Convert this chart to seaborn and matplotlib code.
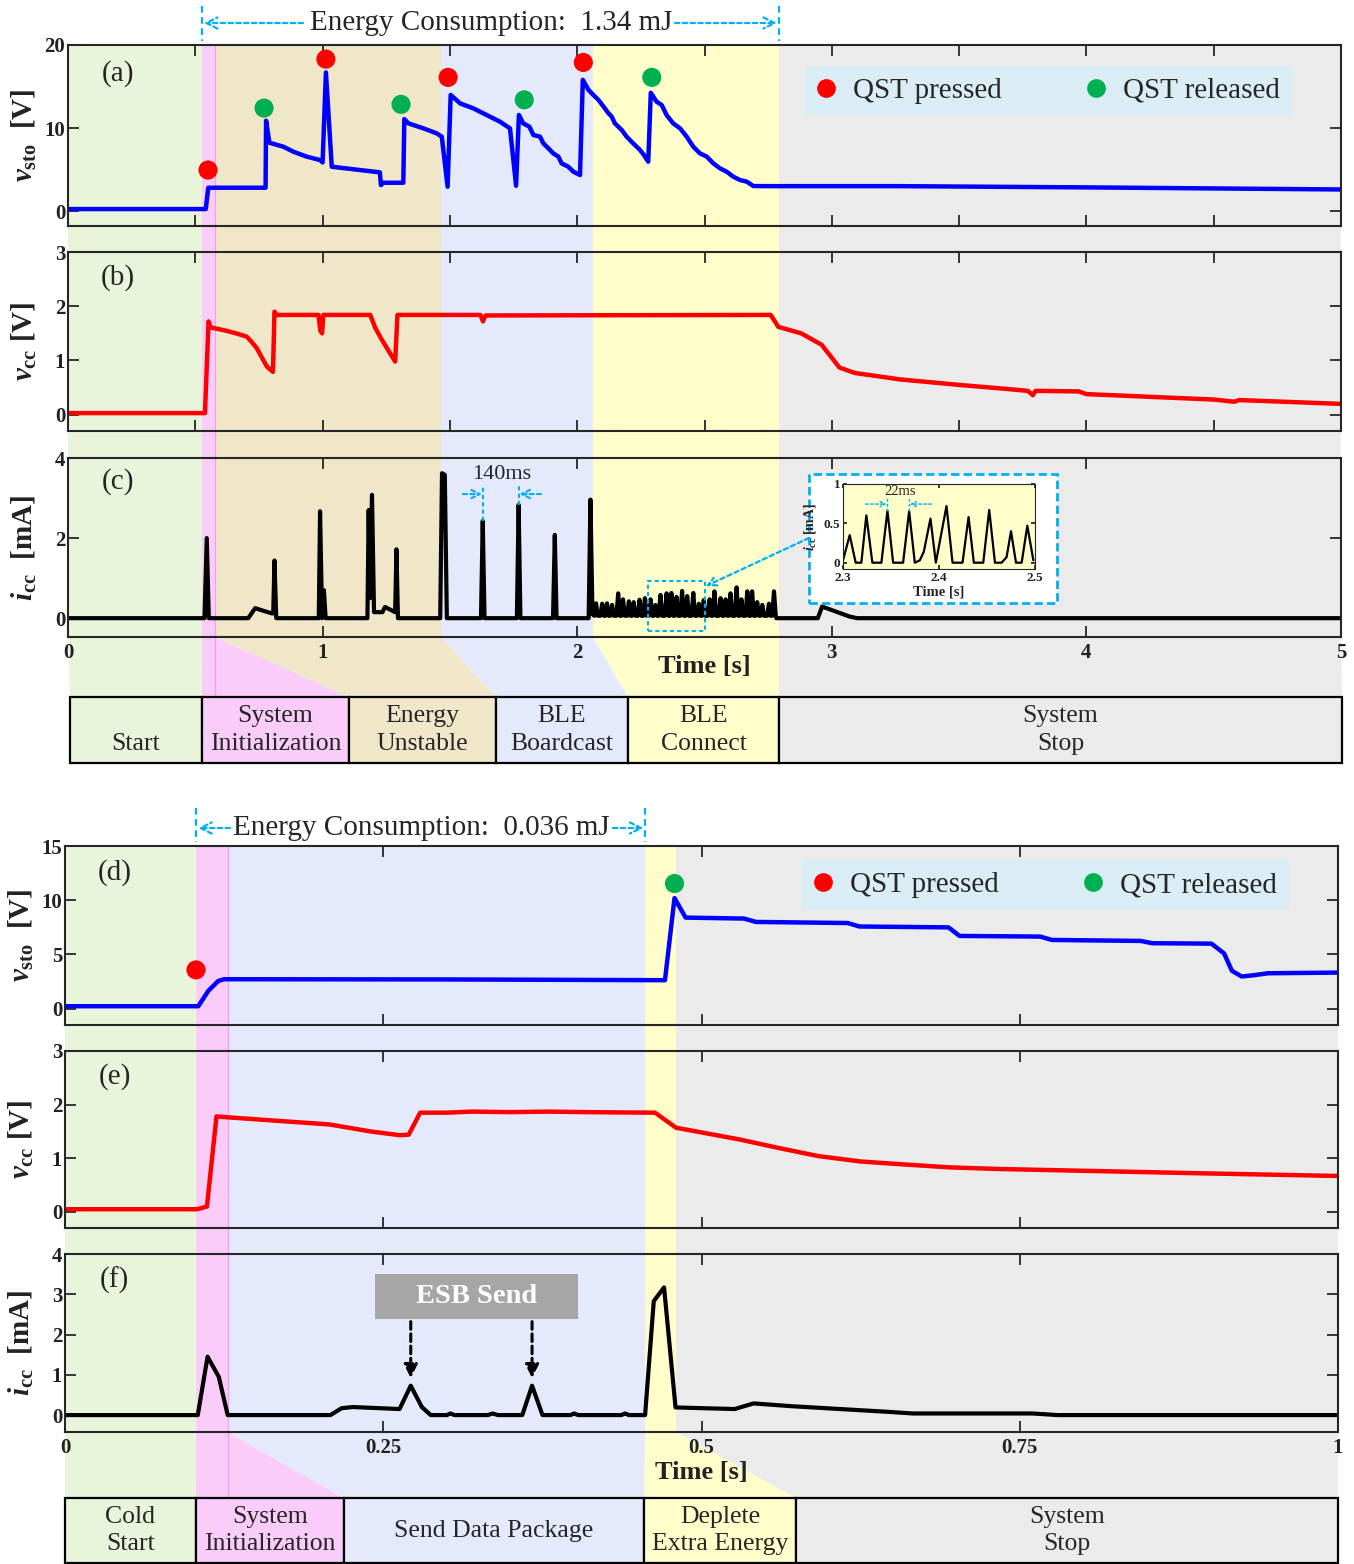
import numpy as np
import matplotlib
matplotlib.use("Agg")
import matplotlib.pyplot as plt
import matplotlib.transforms as mtransforms
from matplotlib.patches import Rectangle, Polygon
from matplotlib.lines import Line2D
import seaborn as sns

sns.set_style("ticks")
plt.rcParams['font.family'] = ['Liberation Serif', 'DejaVu Serif']
plt.rcParams['mathtext.fontset'] = 'custom'
plt.rcParams['mathtext.rm'] = 'Liberation Serif'
plt.rcParams['mathtext.it'] = 'Liberation Serif:italic:bold'
plt.rcParams['mathtext.bf'] = 'Liberation Serif:bold'

W, H = 1354, 1564

# phase colours
GREEN, PINK, TAN, BLUE, YELLOW, GRAY = '#E9F5DB', '#FACCFA', '#F0E6C8', '#E4EAFC', '#FFFDCA', '#EBEBEB'
CYAN = '#00B0F0'

# ---------------- top experiment (5 s) ----------------
top_phase_edges = [0, 0.526, 0.577, 1.465, 2.062, 2.793, 5.0]
top_phase_names = ['\nStart', 'System\nInitialization', 'Energy\nUnstable', 'BLE\nBoardcast', 'BLE\nConnect', 'System\nStop']
top_phase_colors = [GREEN, PINK, TAN, BLUE, YELLOW, GRAY]
top_box_edges_px = [70, 202, 349, 496, 628, 779, 1342]

vsto_top = [(0, 0.24), (0.541, 0.24), (0.551, 2.81), (0.776, 2.81), (0.778, 10.88), (0.791, 8.23),
            (0.846, 7.75), (0.885, 7.15), (0.938, 6.55), (0.990, 6.14), (1.000, 5.86), (1.013, 16.7),
            (1.036, 5.34), (1.225, 4.66), (1.229, 3.13), (1.239, 3.41), (1.317, 3.41), (1.321, 11.08),
            (1.337, 10.56), (1.396, 9.96), (1.448, 9.36), (1.468, 8.96), (1.491, 2.93), (1.503, 13.98),
            (1.540, 12.97), (1.592, 12.37), (1.644, 11.57), (1.697, 10.76), (1.736, 9.96), (1.760, 3.05),
            (1.771, 11.57), (1.788, 10.56), (1.812, 10.16), (1.828, 9.16), (1.854, 8.96), (1.867, 8.15),
            (1.887, 7.55), (1.906, 6.95), (1.926, 6.55), (1.939, 5.74), (1.965, 5.34), (1.985, 4.74),
            (2.011, 4.34), (2.022, 15.8), (2.044, 14.6), (2.063, 14.0), (2.083, 13.4), (2.103, 12.6),
            (2.122, 11.8), (2.135, 11.4), (2.148, 10.56), (2.175, 9.76), (2.194, 8.96), (2.220, 8.15),
            (2.247, 7.35), (2.262, 6.75), (2.279, 5.94), (2.289, 14.25), (2.312, 13.17), (2.332, 12.77),
            (2.351, 11.57), (2.377, 10.56), (2.404, 9.96), (2.430, 8.96), (2.456, 7.75), (2.482, 6.95),
            (2.509, 6.55), (2.535, 5.74), (2.561, 5.14), (2.587, 4.74), (2.613, 4.14), (2.639, 3.74),
            (2.666, 3.54), (2.692, 3.01), (2.770, 3.0), (3.27, 3.0), (4.0, 2.85), (5.0, 2.6)]

vcc_top = [(0, 0.03), (0.538, 0.03), (0.552, 1.72), (0.560, 1.61), (0.59, 1.58), (0.62, 1.55),
           (0.66, 1.50), (0.702, 1.44), (0.72, 1.35), (0.741, 1.23), (0.781, 0.89), (0.805, 0.79),
           (0.811, 1.90), (0.82, 1.84), (0.984, 1.84), (0.991, 1.55), (0.998, 1.5), (1.003, 1.84),
           (1.187, 1.84), (1.207, 1.6), (1.233, 1.38), (1.285, 0.98), (1.294, 1.84), (1.62, 1.84),
           (1.63, 1.72), (1.64, 1.83), (2.76, 1.84), (2.79, 1.62), (2.88, 1.5), (2.96, 1.29),
           (3.03, 0.87), (3.09, 0.77), (3.27, 0.65), (3.50, 0.55), (3.70, 0.47), (3.77, 0.44),
           (3.79, 0.36), (3.80, 0.44), (3.97, 0.43), (4.0, 0.38), (4.5, 0.28), (4.58, 0.24),
           (4.6, 0.27), (5.0, 0.2)]

icc_top_a = [(0, 0), (0.536, 0), (0.545, 2.0), (0.553, 0), (0.708, 0), (0.735, 0.25), (0.80, 0.12),
             (0.806, 0.12), (0.811, 1.44), (0.818, 0), (0.985, 0), (0.99, 2.67), (0.998, 0),
             (1.005, 0.7), (1.012, 0), (1.176, 0), (1.181, 2.7), (1.186, 0.5), (1.194, 3.08),
             (1.202, 0.15), (1.235, 0.15), (1.245, 0.28), (1.285, 0.15), (1.29, 1.72), (1.296, 0),
             (1.462, 0), (1.469, 3.62), (1.480, 3.58), (1.488, 0), (1.622, 0), (1.629, 2.43),
             (1.636, 0), (1.763, 0), (1.770, 2.83), (1.777, 0), (1.905, 0), (1.912, 2.08),
             (1.919, 0), (2.045, 0), (2.052, 2.96), (2.060, 0.1)]
# BLE connect current pulses (time, peak)
ble_t = [2.074, 2.098, 2.117, 2.137, 2.161, 2.180, 2.203, 2.222, 2.245, 2.266, 2.288, 2.307,
         2.327, 2.351, 2.370, 2.390, 2.412, 2.432, 2.456, 2.478, 2.497, 2.520, 2.539, 2.563,
         2.583, 2.602, 2.626, 2.645, 2.668, 2.687, 2.707, 2.727, 2.753, 2.773]
ble_h = [0.37, 0.36, 0.37, 0.33, 0.62, 0.47, 0.42, 0.40, 0.46, 0.50, 0.47, 0.33,
         0.58, 0.62, 0.63, 0.53, 0.68, 0.55, 0.63, 0.36, 0.45, 0.47, 0.67, 0.50,
         0.47, 0.62, 0.77, 0.47, 0.67, 0.67, 0.40, 0.33, 0.36, 0.67]
icc_top_b = [(2.782, 0), (2.945, 0), (2.962, 0.29), (3.07, 0.04), (3.1, 0), (5.0, 0)]

# zoomed inset 2.3-2.5 s
inset_icc = [(2.3, 0.03), (2.307, 0.35), (2.3132, 0), (2.3191, 0), (2.3243, 0.6), (2.3306, 0),
             (2.34, 0), (2.3463, 0.66), (2.3522, 0), (2.3626, 0), (2.3689, 0.655), (2.3748, 0),
             (2.38, 0.03), (2.3842, 0.14), (2.3911, 0.56), (2.3967, 0), (2.4078, 0.72), (2.4141, 0),
             (2.4245, 0), (2.4308, 0.58), (2.4363, 0), (2.4461, 0), (2.4523, 0.67), (2.4583, 0),
             (2.4652, 0), (2.4704, 0.07), (2.475, 0.4), (2.4802, 0), (2.4861, 0), (2.492, 0.47),
             (2.4983, 0.03)]

top_pressed = [(0.550, 4.94), (1.013, 18.3), (1.493, 16.1), (2.024, 17.9)]
top_released = [(0.770, 12.4), (1.308, 12.85), (1.792, 13.4), (2.293, 16.1)]

# ---------------- bottom experiment (1 s) ----------------
bot_phase_edges = [0, 0.103, 0.128, 0.456, 0.480, 1.0]
bot_phase_names = ['Cold\nStart', 'System\nInitialization', 'Send Data Package', 'Deplete\nExtra Energy', 'System\nStop']
bot_phase_colors = [GREEN, PINK, BLUE, YELLOW, GRAY]
bot_box_edges_px = [65, 196, 344, 644, 796, 1338]

vsto_bot = [(0, 0.23), (0.1047, 0.23), (0.1126, 1.65), (0.1204, 2.56), (0.125, 2.72), (0.30, 2.70),
            (0.4713, 2.63), (0.4788, 10.2), (0.4875, 8.4), (0.5334, 8.31), (0.5428, 8.0),
            (0.6148, 7.9), (0.624, 7.58), (0.694, 7.5), (0.7027, 6.71), (0.766, 6.65),
            (0.7753, 6.34), (0.845, 6.25), (0.854, 6.04), (0.9006, 6.0), (0.9105, 5.1),
            (0.9167, 3.49), (0.9244, 2.97), (0.934, 3.09), (0.945, 3.27), (1.0, 3.33)]

vcc_bot = [(0, 0.05), (0.104, 0.05), (0.1115, 0.1), (0.119, 1.78), (0.13, 1.76), (0.208, 1.63),
           (0.24, 1.5), (0.263, 1.43), (0.27, 1.44), (0.279, 1.85), (0.30, 1.85), (0.32, 1.87),
           (0.35, 1.86), (0.38, 1.87), (0.41, 1.86), (0.4635, 1.85), (0.48, 1.57), (0.53, 1.35),
           (0.561, 1.19), (0.592, 1.04), (0.625, 0.94), (0.656, 0.89), (0.695, 0.83), (0.734, 0.8),
           (0.813, 0.76), (0.892, 0.72), (1.0, 0.67)]

icc_bot = [(0, 0), (0.1043, 0), (0.112, 1.45), (0.1208, 0.95), (0.1278, 0), (0.2085, 0),
           (0.2172, 0.17), (0.226, 0.2), (0.2628, 0.15), (0.2716, 0.73), (0.2803, 0.2), (0.2873, 0),
           (0.30, 0), (0.3027, 0.04), (0.306, 0), (0.332, 0), (0.336, 0.04), (0.340, 0), (0.3592, 0),
           (0.3669, 0.73), (0.3751, 0), (0.397, 0), (0.40, 0.04), (0.403, 0), (0.437, 0), (0.44, 0.04),
           (0.443, 0), (0.4557, 0), (0.4625, 2.83), (0.4706, 3.17), (0.4796, 0.19), (0.526, 0.15),
           (0.541, 0.29), (0.571, 0.22), (0.647, 0.08), (0.666, 0.04), (0.76, 0.04), (0.78, 0.0),
           (1.0, 0.0)]

bot_pressed = [(0.1029, 3.58)]
bot_released = [(0.4788, 11.54)]
esb_send_t = [0.2716, 0.3669]


def px_rect(l, t, r, b):
    return [l / W, 1 - b / H, (r - l) / W, (b - t) / H]


def style(ax, xlim, ylim, xticks, yticks, xlabels=None, ylabels=None, size=15, ticklen=8):
    ax.set_facecolor('none')
    ax.set_xlim(xlim)
    ax.set_ylim(ylim)
    ax.set_xticks(xticks, labels=xlabels if xlabels is not None else [''] * len(xticks),
                  fontweight='bold')
    ax.set_yticks(yticks, labels=ylabels if ylabels is not None else [str(v) for v in yticks],
                  fontweight='bold')
    ax.tick_params(direction='in', top=True, right=True, length=ticklen, width=1.3,
                   labelsize=size, color='#262626', labelcolor='#222222')
    ax.tick_params(axis='x', pad=4)
    ax.tick_params(axis='y', pad=2)
    for s in ax.spines.values():
        s.set_linewidth(1.5)
        s.set_color('#262626')
    ax.set_xlabel('')
    ax.set_ylabel('')


def trace(ax, pairs, color, lw=3.2):
    arr = np.array(pairs)
    sns.lineplot(x=arr[:, 0], y=arr[:, 1], ax=ax, color=color, lw=lw, sort=False,
                 estimator=None, errorbar=None, legend=False)


def dots(ax, pairs, color, s=190):
    arr = np.array(pairs)
    sns.scatterplot(x=arr[:, 0], y=arr[:, 1], ax=ax, color=color, s=s, edgecolor='none',
                    zorder=6, legend=False, clip_on=False)


def add_legend(ax, ytop):
    handles = [Line2D([], [], ls='none', marker='o', ms=13.5, color='#FF0000', mec='none'),
               Line2D([], [], ls='none', marker='o', ms=13.5, color='#00B050', mec='none')]
    leg = ax.legend(handles, ['QST pressed', 'QST released'], ncol=2, loc='upper left',
                    bbox_to_anchor=(0.579, ytop), borderaxespad=0, frameon=True, fancybox=False,
                    facecolor='#DAEDF5', edgecolor='none', framealpha=1, fontsize=21,
                    handlelength=0.65, handletextpad=0.6, columnspacing=2.9, borderpad=0.4)
    leg.set_zorder(7)


fig = plt.figure(figsize=(W / 100, H / 100), dpi=100)
bg = fig.add_axes([0, 0, 1, 1], zorder=-1)
bg.set_xlim(0, 1)
bg.set_ylim(0, 1)
bg.axis('off')

ax_a = fig.add_axes(px_rect(68, 45, 1341, 226))
ax_b = fig.add_axes(px_rect(68, 252, 1341, 431))
ax_c = fig.add_axes(px_rect(68, 458, 1341, 637))
ax_d = fig.add_axes(px_rect(65, 846, 1338, 1025))
ax_e = fig.add_axes(px_rect(65, 1051, 1338, 1228))
ax_f = fig.add_axes(px_rect(65, 1254, 1338, 1432))

# ---- top panels ----
trace(ax_a, vsto_top, '#0000FF')
dots(ax_a, top_pressed, '#FF0000')
dots(ax_a, top_released, '#00B050')
trace(ax_b, vcc_top, '#FF0000')

ble_pts = []
for t, h in zip(ble_t, ble_h):
    ble_pts += [(t - 0.007, 0.06), (t, h), (t + 0.007, 0.06)]
trace(ax_c, icc_top_a + ble_pts + icc_top_b, '#000000', lw=3.0)

half = [0, 0.5, 1, 1.5, 2, 2.5, 3, 3.5, 4, 4.5, 5]
style(ax_a, (0, 5), (-1.8, 20), half, [0, 10, 20])
style(ax_b, (0, 5), (-0.3, 3), half, [0, 1, 2, 3])
style(ax_c, (0, 5), (-0.47, 4), [0, 1, 2, 3, 4, 5], [0, 2, 4], xlabels=['0', '1', '2', '3', '4', '5'])

# ---- bottom panels ----
trace(ax_d, vsto_bot, '#0000FF')
dots(ax_d, bot_pressed, '#FF0000')
dots(ax_d, bot_released, '#00B050')
trace(ax_e, vcc_bot, '#FF0000')
trace(ax_f, icc_bot, '#000000', lw=3.0)

quart = [0, 0.25, 0.5, 0.75, 1]
style(ax_d, (0, 1), (-1.5, 15), quart, [0, 5, 10, 15])
style(ax_e, (0, 1), (-0.3, 3), quart, [0, 1, 2, 3])
style(ax_f, (0, 1), (-0.42, 4), quart, [0, 1, 2, 3, 4], xlabels=['0', '0.25', '0.5', '0.75', '1'])

# axis labels
ylab = {ax_a: r'$v_{\mathbf{sto}}$  [V]', ax_b: r'$v_{\mathbf{cc}}$ [V]', ax_c: r'$i_{\mathbf{cc}}$  [mA]',
        ax_d: r'$v_{\mathbf{sto}}$  [V]', ax_e: r'$v_{\mathbf{cc}}$ [V]', ax_f: r'$i_{\mathbf{cc}}$  [mA]'}
for ax, lab in ylab.items():
    ax.set_ylabel(lab, fontsize=21, fontweight='bold', color='#222222')
    ax.yaxis.set_label_coords(-0.034, 0.5)
    ax.yaxis.label.set_va('center')
for ax, yy in [(ax_c, -(667 - 637) / 179), (ax_f, -(1472 - 1432) / 178)]:
    ax.set_xlabel('Time [s]', fontsize=19, fontweight='bold', color='#222222')
    ax.xaxis.set_label_coords(0.5, yy)
    ax.xaxis.label.set_va('center')

for ax, lab, yy in [(ax_a, '(a)', 0.845), (ax_b, '(b)', 0.855), (ax_c, '(c)', 0.866),
                    (ax_d, '(d)', 0.85), (ax_e, '(e)', 0.853), (ax_f, '(f)', 0.854)]:
    ax.text(0.039, yy, lab, transform=ax.transAxes, ha='center', va='center', fontsize=21)

add_legend(ax_a, 0.886)
add_legend(ax_d, 0.92)

# ---- phase shading and phase boxes ----
inv = fig.transFigure.inverted()


def fx(ax, t):
    return inv.transform(ax.transData.transform((t, 0)))[0]


def phases(ax_top, ax_bot, edges, colors, names, box_px, box_top, box_bot, pink_line):
    ytop = ax_top.get_position().y1
    ybot = ax_bot.get_position().y0
    ybox = 1 - box_top / H
    for i, c in enumerate(colors):
        x0, x1 = fx(ax_bot, edges[i]), fx(ax_bot, edges[i + 1])
        b0, b1 = box_px[i] / W, box_px[i + 1] / W
        bg.add_patch(Polygon([(x0, ytop), (x1, ytop), (x1, ybot), (b1, ybox), (b0, ybox), (x0, ybot)],
                             closed=True, facecolor=c, edgecolor='none'))
        fig.add_artist(Rectangle((b0, 1 - box_bot / H), b1 - b0, (box_bot - box_top) / H,
                                 transform=fig.transFigure, facecolor=c, edgecolor='black',
                                 lw=1.6, zorder=1))
        fig.text((b0 + b1) / 2, 1 - (box_top + box_bot) / 2 / H, names[i], ha='center', va='center',
                 fontsize=18.5, linespacing=1.3, zorder=2)
    xl = fx(ax_bot, edges[pink_line])
    bg.plot([xl, xl], [ytop, ybox], color='#F29CF2', lw=0.9)


phases(ax_a, ax_c, top_phase_edges, top_phase_colors, top_phase_names, top_box_edges_px, 697, 763, 2)
phases(ax_d, ax_f, bot_phase_edges, bot_phase_colors, bot_phase_names, bot_box_edges_px, 1498, 1563, 2)

# ---- energy consumption brackets ----


def energy(ax, e0, e1, text, xc, yc, tail0, tail1, y0, y1):
    tr = mtransforms.blended_transform_factory(ax.transData, fig.transFigure)
    for e in (e0, e1):
        ax.plot([e, e], [1 - y0 / H, 1 - y1 / H], transform=tr, clip_on=False, color=CYAN,
                lw=1.6, ls=(0, (3, 2)))
    yf = 1 - yc / H
    for e, tail, d in ((e0, tail0, 1), (e1, tail1, -1)):
        xe = fx(ax, e) + d * 2 / W
        ax.annotate('', xy=(xe, yf), xycoords='figure fraction', xytext=(tail / W, yf),
                    textcoords='figure fraction', annotation_clip=False,
                    arrowprops=dict(arrowstyle='->', color=CYAN, lw=1.6, ls=(0, (2, 1.5)),
                                    shrinkA=0, shrinkB=0, mutation_scale=20))
    fig.text(xc / W, 1 - yc / H, text, ha='center', va='center', fontsize=21)


energy(ax_a, top_phase_edges[1], top_phase_edges[5], 'Energy Consumption:  1.34 mJ',
       491, 23, 303, 675, 6, 41)
energy(ax_d, bot_phase_edges[1], bot_phase_edges[3], 'Energy Consumption:  0.036 mJ',
       421, 828, 230, 613, 808, 842)

# ---- 140 ms annotation in (c) ----
for t, top in [(1.629, 2.43), (1.770, 2.83)]:
    ax_c.plot([t, t], [top, 3.33], color=CYAN, lw=1.5, ls=(0, (2, 1.5)), zorder=5)
ax_c.annotate('', xy=(1.626, 3.1), xytext=(1.551, 3.1),
              arrowprops=dict(arrowstyle='->', color=CYAN, lw=1.5, ls=(0, (2, 1.5)), shrinkA=0, shrinkB=0,
                              mutation_scale=15))
ax_c.annotate('', xy=(1.773, 3.1), xytext=(1.858, 3.1),
              arrowprops=dict(arrowstyle='->', color=CYAN, lw=1.5, ls=(0, (2, 1.5)), shrinkA=0, shrinkB=0,
                              mutation_scale=15))
ax_c.text(1.705, 3.6, '140ms', ha='center', va='center', fontsize=16)

# zoom box in (c) and inset
ax_c.add_patch(Rectangle((2.28, -0.32), 0.22, 1.26, fill=False, ec=CYAN, lw=1.5,
                         ls=(0, (2, 1.5)), zorder=6))
ax_c.annotate('', xy=(2.505, 0.8), xytext=(809 / W, 1 - 538 / H), textcoords='figure fraction',
              annotation_clip=False,
              arrowprops=dict(arrowstyle='->', color=CYAN, lw=1.6, ls=(0, (2, 1.5)), shrinkA=0, shrinkB=0,
                              mutation_scale=15))
fig.add_artist(Rectangle((809 / W, 1 - 603 / H), (1057 - 809) / W, (603 - 474) / H,
                         transform=fig.transFigure, facecolor='white', edgecolor=CYAN, lw=2,
                         ls=(0, (3, 1.5)), zorder=2))
ax_in = fig.add_axes(px_rect(843, 484, 1035, 569), zorder=3)
trace(ax_in, inset_icc, '#000000', lw=1.6)
style(ax_in, (2.3, 2.5), (-0.08, 1), [2.3, 2.4, 2.5], [0, 0.5, 1], xlabels=['2.3', '2.4', '2.5'],
      ylabels=['0', '0.5', '1'], size=9.5, ticklen=3)
ax_in.set_facecolor('#FFFDC9')
ax_in.tick_params(axis='x', pad=2)
for s in ax_in.spines.values():
    s.set_linewidth(0.8)
ax_in.set_ylabel(r'$i_{\mathbf{cc}}$ [mA]', fontsize=10, fontweight='bold')
ax_in.yaxis.set_label_coords(-0.13, 0.5)
ax_in.set_xlabel('Time [s]', fontsize=10.5, fontweight='bold', labelpad=1)
for t in (2.3463, 2.3689):
    ax_in.plot([t, t], [0.66, 0.83], color=CYAN, lw=1, ls=(0, (2, 1.5)))
ax_in.annotate('', xy=(2.3455, 0.745), xytext=(2.3237, 0.745),
               arrowprops=dict(arrowstyle='->', color=CYAN, lw=1, ls=(0, (2, 1.5)), shrinkA=0, shrinkB=0,
                               mutation_scale=9))
ax_in.annotate('', xy=(2.3697, 0.745), xytext=(2.3922, 0.745),
               arrowprops=dict(arrowstyle='->', color=CYAN, lw=1, ls=(0, (2, 1.5)), shrinkA=0, shrinkB=0,
                               mutation_scale=9))
ax_in.text(2.359, 0.9, '22ms', ha='center', va='center', fontsize=10.5)

# ---- ESB Send in (f) ----
ax_f.add_patch(Rectangle((0.2435, 2.38), 0.1595, 1.12, facecolor='#A6A6A6', edgecolor='none', zorder=4))
ax_f.text(0.3232, 2.94, 'ESB Send', ha='center', va='center', color='white', fontsize=20.5,
          fontweight='bold', zorder=5)
for t in esb_send_t:
    ax_f.annotate('', xy=(t, 0.92), xytext=(t, 2.32),
                  arrowprops=dict(arrowstyle='-|>', color='black', lw=2.2, ls=(0, (2.5, 1.5)),
                                  shrinkA=0, shrinkB=0, mutation_scale=20))

fig.savefig('out.png', dpi=100)
